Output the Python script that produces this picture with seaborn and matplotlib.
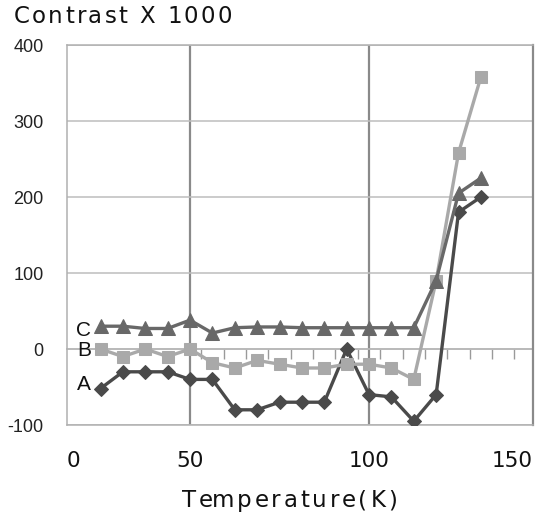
"""Contrast vs temperature for samples A, B and C."""
import matplotlib

matplotlib.use("Agg")
import matplotlib.pyplot as plt
import numpy as np
import pandas as pd
import seaborn as sns
from matplotlib.font_manager import FontProperties

# Data
temperature = [25.0, 31.25, 37.5, 43.75, 50.0, 56.25, 62.5, 68.75, 75.0,
               81.25, 87.5, 93.75, 100.0, 106.25, 112.5, 118.75, 125.0, 131.25]
contrast_a = [-52, -30, -30, -30, -40, -40, -80, -80, -70,
              -70, -70, 0, -60, -63, -95, -60, 180, 200]
contrast_b = [0, -10, 0, -10, 0, -18, -25, -15, -20,
              -25, -25, -20, -20, -25, -40, 90, 258, 358]
contrast_c = [30, 30, 27, 27, 38, 21, 28, 29, 29,
              28, 28, 28, 28, 28, 28, 90, 205, 225]
series_names = ["A", "B", "C"]
y_ticks = [-100, 0, 100, 200, 300, 400]

df = pd.DataFrame({
    "T": temperature * 3,
    "contrast": contrast_a + contrast_b + contrast_c,
    "sample": [n for n in series_names for _ in temperature],
})

sns.set_style("white")
plt.rcParams["font.family"] = ["DejaVu Sans"]

W, H = 543, 516
fig = plt.figure(figsize=(W / 100, H / 100), dpi=100)
ax = fig.add_axes([67 / W, 1 - 425 / H, 466 / W, 380 / H])


def tracked_text(fig, s, x0, x1, y, size, color="#111111"):
    """Draw s with letter spacing so it spans pixels x0..x1 (baseline y)."""
    renderer = fig.canvas.get_renderer()
    fp = FontProperties(family="DejaVu Sans", size=size)

    def width(txt):
        w, _, _ = renderer.get_text_width_height_descent(txt, fp, ismath=False)
        return w

    ref = width("x")
    offsets = [width(s[:k] + "x") - ref if k else 0 for k in range(len(s))]
    natural = width(s)
    track = (x1 - x0 - natural) / (len(s) - 1)
    for k, ch in enumerate(s):
        if ch == " ":
            continue
        fig.text((x0 + offsets[k] + k * track) / W, 1 - y / H, ch,
                 fontproperties=fp, color=color, va="baseline", ha="left")


palette = {"A": "#4a4a4a", "B": "#a9a9a9", "C": "#686868"}
markers = {"A": "D", "B": "s", "C": "^"}
sizes = {"A": 7, "B": 8.5, "C": 9.5}
for name in series_names:
    sub = df[df["sample"] == name]
    sns.lineplot(data=sub, x="T", y="contrast", ax=ax, color=palette[name],
                 marker=markers[name], markersize=sizes[name],
                 markeredgecolor=palette[name], linewidth=2.4, zorder=3,
                 legend=False)

xmin, xmax = 15.64, 145.8
ax.set_xlim(xmin, xmax)
ax.set_ylim(-100, 400)

# horizontal grid + y ticks
ax.set_yticks(y_ticks)
ax.set_yticklabels([str(v) for v in y_ticks], fontfamily="Liberation Sans",
                   fontsize=13, color="#222222")
ax.tick_params(axis="y", direction="out", length=7, width=1,
               color="#aaaaaa", pad=10)
ax.grid(axis="y", color="#bdbdbd", linewidth=1.1)

# x: grid lines at 50 and 100, edge labels as minor ticks
ax.set_xticks([50, 100])
ax.set_xticklabels(["50", "100"], fontsize=15.5, color="#111111")
ax.set_xticks([xmin, xmax], minor=True)
ax.set_xticklabels(["0", "150"], minor=True, fontsize=15.5, color="#111111")
for lab, ha in zip(ax.get_xticklabels(minor=True), ["left", "right"]):
    lab.set_ha(ha)
ax.tick_params(axis="x", which="both", length=0, pad=19)
ax.grid(axis="x", which="major", color="#8a8a8a", linewidth=1.6)
ax.set_xlabel("")
ax.set_ylabel("")

for side in ["left", "top", "bottom"]:
    ax.spines[side].set_color("#b0b0b0")
    ax.spines[side].set_linewidth(1.1)
ax.spines["right"].set_color("#8a8a8a")
ax.spines["right"].set_linewidth(1.6)

# category tick marks along the zero line
zero_axis = ax.secondary_xaxis((0 - (-100)) / 500)
zero_axis.set_xticks(np.arange(53.125, 141, 6.25))
zero_axis.tick_params(direction="out", length=7, width=1, color="#9a9a9a",
                      labelbottom=False)
zero_axis.spines["bottom"].set_color("#9a9a9a")
zero_axis.spines["bottom"].set_linewidth(1.1)

# series labels at the start of each line
starts = {"A": contrast_a[0], "B": contrast_b[0], "C": contrast_c[0]}
y_off = {"A": 3, "B": -1, "C": -3}
for name in series_names:
    ax.annotate(name, xy=(temperature[0], starts[name]),
                xytext=(-12, y_off[name]), textcoords="offset points",
                ha="center", va="center", fontsize=15,
                fontfamily="Liberation Sans", color="#111111")

tracked_text(fig, "Contrast X 1000", 14, 232, 23, 16.5)
tracked_text(fig, "Temperature(K)", 182, 397, 507, 16.5)

fig.savefig("out.png", dpi=100)
